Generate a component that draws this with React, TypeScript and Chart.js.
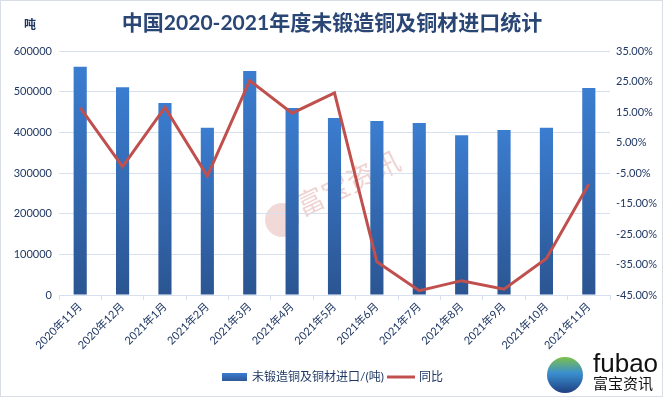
import React, { useEffect, useRef } from "react";
import { Chart, registerables } from "chart.js";

Chart.register(...registerables);

const categories = [
  "2020年11月", "2020年12月", "2021年1月", "2021年2月", "2021年3月", "2021年4月", "2021年5月",
  "2021年6月", "2021年7月", "2021年8月", "2021年9月", "2021年10月", "2021年11月",
];
const importTons = [561000, 511000, 472000, 411000, 551000, 460000, 435000, 428000, 423000, 393000, 406000, 411000, 509000];
const yoyPct = [16.4, -2.9, 16.5, -6.0, 25.3, 14.6, 21.3, -34.1, -43.6, -40.3, -43.1, -33.0, -8.6];

const titleText = "中国2020-2021年度未锻造铜及铜材进口统计";
const unitText = "吨";
const barLabel = "未锻造铜及铜材进口/(吨)";
const lineLabel = "同比";

const FONT = "Lato, 'Noto Sans CJK SC', sans-serif";
const TEXT = "#203864";
const GRID = "#d6e0ee";
const RED = "#c0504d";

const decorPlugin = {
  id: "decor",
  beforeDraw(chart: any) {
    const ctx = chart.ctx;
    ctx.save();
    ctx.fillStyle = "#ffffff";
    ctx.fillRect(0, 0, chart.width, chart.height);
    // watermark
    ctx.fillStyle = "rgba(192,80,77,0.22)";
    ctx.beginPath();
    ctx.arc(282, 220, 17, 0, Math.PI * 2);
    ctx.fill();
    ctx.translate(302, 217);
    ctx.rotate(-0.45);
    ctx.font = `28px 'Noto Sans CJK SC', sans-serif`;
    ctx.fillStyle = "rgba(192,80,77,0.25)";
    ctx.textBaseline = "alphabetic";
    ctx.fillText("富宝资讯", 0, 0);
    ctx.restore();
  },
  afterDraw(chart: any) {
    const ctx = chart.ctx;
    ctx.save();
    // border
    ctx.strokeStyle = "#d9dee6";
    ctx.lineWidth = 1;
    ctx.strokeRect(0.5, 0.5, chart.width - 1, chart.height - 1);
    // title
    ctx.fillStyle = "#2a4675";
    ctx.font = `bold 21px ${FONT}`;
    ctx.textAlign = "center";
    ctx.textBaseline = "middle";
    ctx.fillText(titleText, 332, 23);
    ctx.font = `bold 12px 'Noto Sans CJK SC', sans-serif`;
    ctx.fillStyle = TEXT;
    ctx.fillText(unitText, 30, 24);
    // legend
    const g = ctx.createLinearGradient(0, 373, 0, 381);
    g.addColorStop(0, "#3b7dd0");
    g.addColorStop(1, "#2c5898");
    ctx.fillStyle = g;
    ctx.fillRect(222, 373, 25, 8);
    ctx.font = `12px ${FONT}`;
    ctx.fillStyle = TEXT;
    ctx.textAlign = "left";
    ctx.fillText(barLabel, 252, 377);
    ctx.strokeStyle = RED;
    ctx.lineWidth = 3;
    ctx.beginPath();
    ctx.moveTo(387, 377);
    ctx.lineTo(415, 377);
    ctx.stroke();
    ctx.fillText(lineLabel, 419, 377);
    // bottom-right logo
    const lg = ctx.createLinearGradient(565, 357, 565, 393);
    lg.addColorStop(0, "#7cc04a");
    lg.addColorStop(0.45, "#3a8fd0");
    lg.addColorStop(1, "#1f3f80");
    ctx.fillStyle = lg;
    ctx.beginPath();
    ctx.arc(565, 375, 18, 0, Math.PI * 2);
    ctx.fill();
    ctx.fillStyle = "#111111";
    ctx.font = `26px 'Liberation Sans', sans-serif`;
    ctx.textBaseline = "alphabetic";
    ctx.fillText("fubao", 593, 372);
    ctx.font = `15px 'Noto Sans CJK SC', sans-serif`;
    ctx.textBaseline = "middle";
    ctx.fillText("富宝资讯", 593, 383);
    ctx.restore();
  },
};

export default function App() {
  const ref = useRef<HTMLCanvasElement | null>(null);
  useEffect(() => {
    document.body.style.margin = "0";
    const canvas = ref.current!;
    const chart = new Chart(canvas, {
      type: "bar",
      data: {
        labels: categories,
        datasets: [
          {
            type: "line",
            label: lineLabel,
            data: yoyPct,
            yAxisID: "y1",
            borderColor: RED,
            backgroundColor: RED,
            borderWidth: 3,
            pointRadius: 0,
            tension: 0,
            order: 0,
          } as any,
          {
            type: "bar",
            label: barLabel,
            data: importTons,
            yAxisID: "y",
            order: 1,
            categoryPercentage: 1,
            barPercentage: 0.31,
            backgroundColor: (c: any) => {
              const ch = c.chart;
              const area = ch.chartArea;
              const ys = ch.scales?.y;
              if (!area || !ys || c.raw == null) return "#3470b8";
              const top = ys.getPixelForValue(c.raw);
              const bottom = ys.getPixelForValue(0);
              const gr = ch.ctx.createLinearGradient(0, top, 0, bottom);
              gr.addColorStop(0, "#3b7dd0");
              gr.addColorStop(1, "#2b5592");
              return gr;
            },
          } as any,
        ],
      },
      options: {
        responsive: false,
        animation: false,
        layout: { padding: { top: 51, left: 0, right: 0, bottom: 0 } },
        plugins: { legend: { display: false }, title: { display: false }, tooltip: { enabled: false } },
        scales: {
          x: {
            offset: true,
            grid: { display: true, offset: true, drawOnChartArea: false, drawTicks: true, tickLength: 5, color: GRID },
            border: { display: true, color: GRID },
            ticks: { color: TEXT, font: { family: FONT, size: 11 }, maxRotation: 45, minRotation: 45, padding: 0, autoSkip: false },
            afterFit: (s: any) => { s.height = 102; },
          },
          y: {
            position: "left",
            min: 0,
            max: 600000,
            grid: { color: GRID, drawTicks: false },
            border: { display: false },
            ticks: { stepSize: 100000, color: TEXT, font: { family: FONT, size: 11 }, padding: 7, callback: (v: any) => String(v) },
            afterFit: (s: any) => { s.width = 59; },
          },
          y1: {
            position: "right",
            min: -45,
            max: 35,
            grid: { drawOnChartArea: false, drawTicks: false },
            border: { display: false },
            ticks: { stepSize: 10, color: TEXT, font: { family: FONT, size: 11 }, padding: 6, callback: (v: any) => Number(v).toFixed(2) + "%" },
            afterFit: (s: any) => { s.width = 53; },
          },
        },
      },
      plugins: [decorPlugin],
    });
    return () => chart.destroy();
  }, []);
  return (
    <div style={{ position: "absolute", left: 0, top: 0, width: 663, height: 397 }}>
      <canvas ref={ref} width={663} height={397} style={{ width: 663, height: 397, display: "block" }} />
    </div>
  );
}
